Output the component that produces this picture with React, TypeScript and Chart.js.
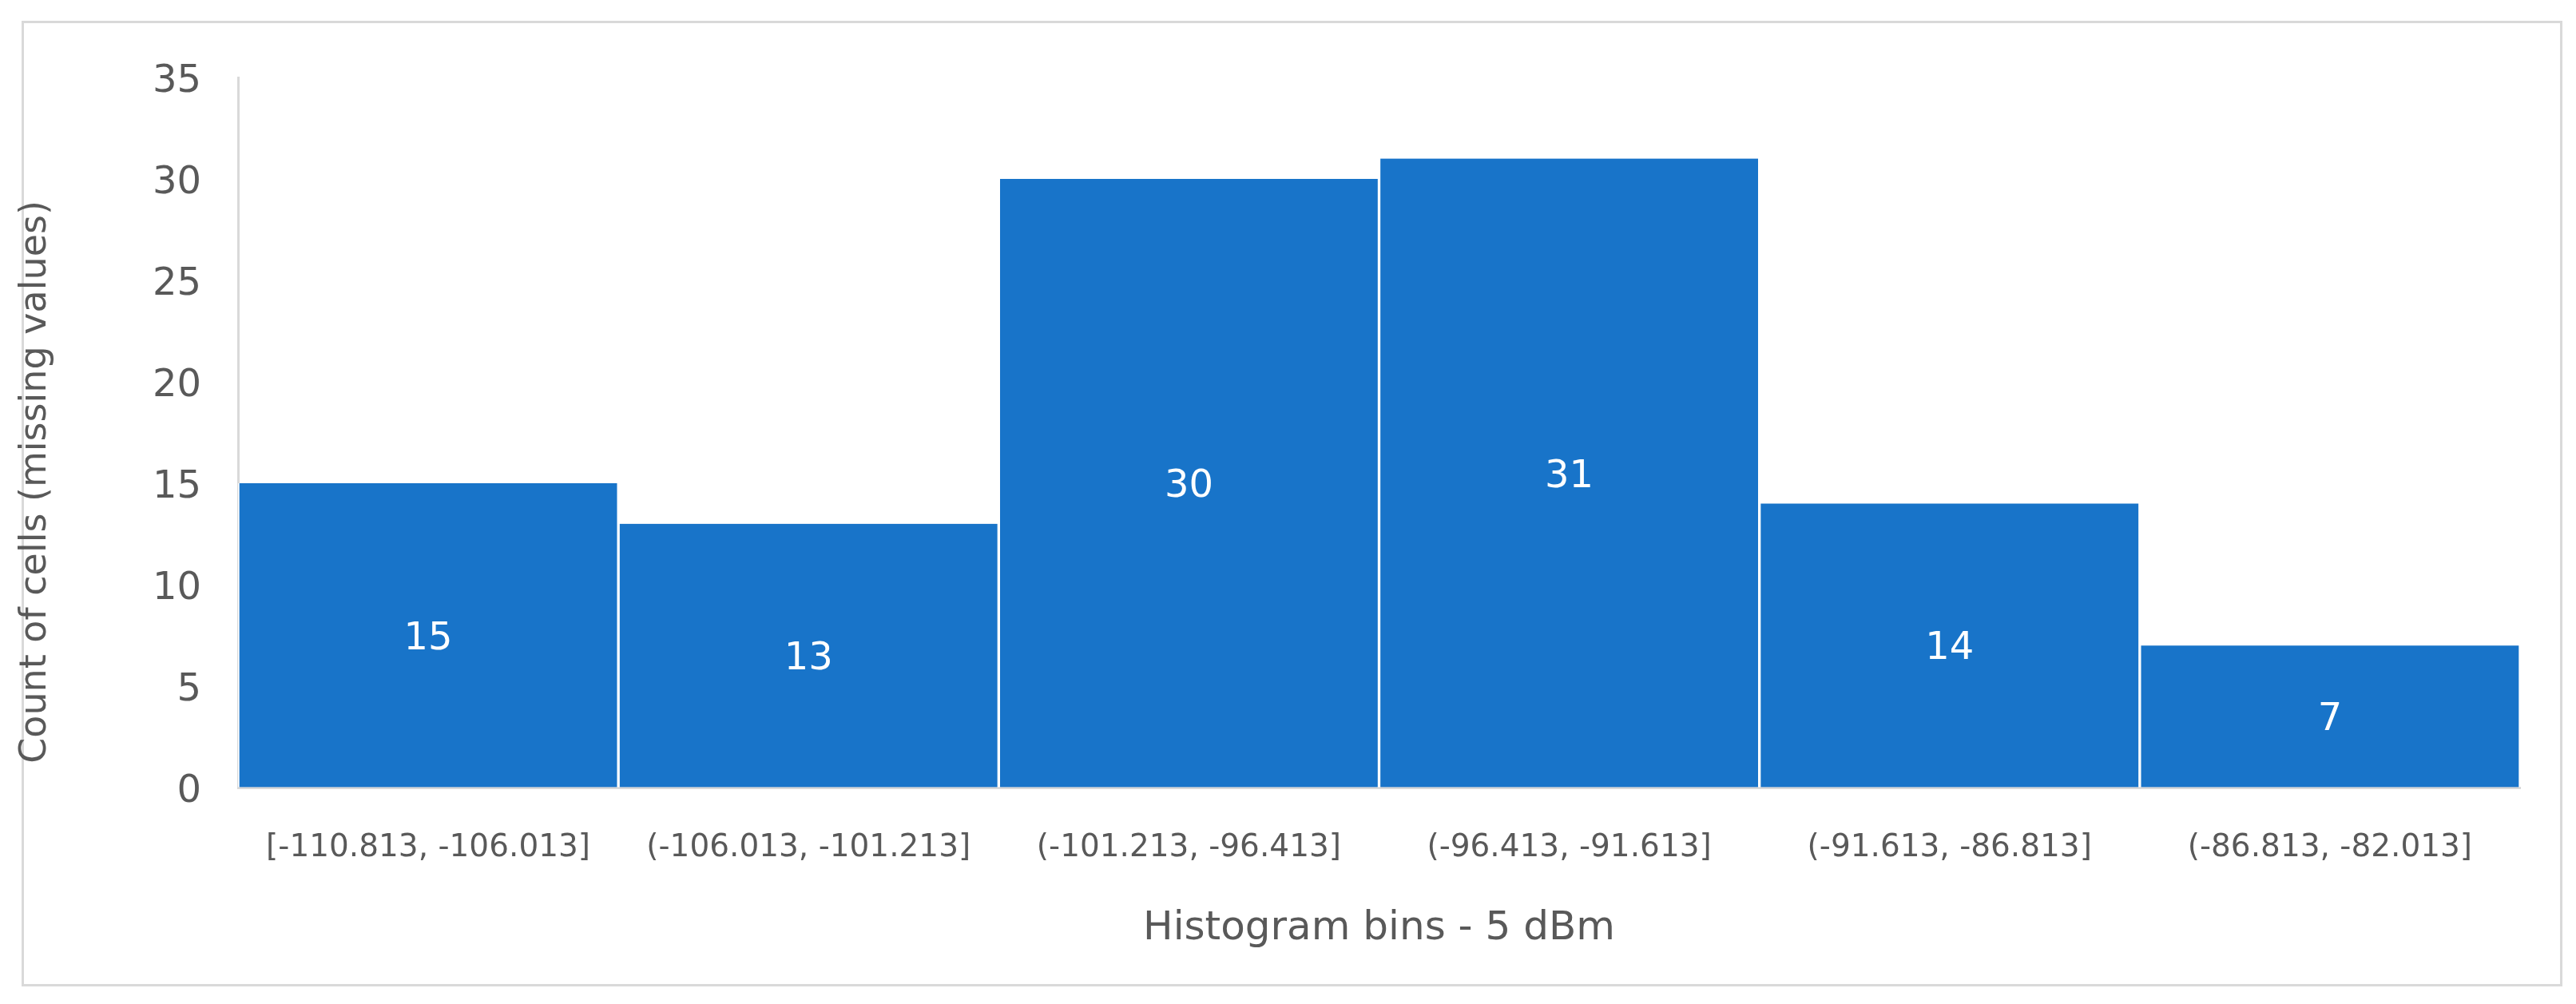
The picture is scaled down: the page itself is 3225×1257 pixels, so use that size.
import React, { useEffect, useRef } from "react";
import { Chart, registerables } from "chart.js";

Chart.register(...registerables);

const binLabels = [
  "[-110.813, -106.013]",
  "(-106.013, -101.213]",
  "(-101.213, -96.413]",
  "(-96.413, -91.613]",
  "(-91.613, -86.813]",
  "(-86.813, -82.013]",
];
const counts = [15, 13, 30, 31, 14, 7];
const yTitle = "Count of cells (missing values)";
const xTitle = "Histogram bins - 5 dBm";

const FONT = "'DejaVu Sans', Verdana, sans-serif";
const TEXT = "#595959";
const AXIS = "#d9d9d9";
const BAR = "#1874C9";

const valueLabels = {
  id: "valueLabels",
  afterDatasetsDraw(chart: any) {
    const ctx = chart.ctx;
    const meta = chart.getDatasetMeta(0);
    ctx.save();
    ctx.fillStyle = "#ffffff";
    ctx.font = `48px ${FONT}`;
    ctx.textAlign = "center";
    ctx.textBaseline = "middle";
    meta.data.forEach((bar: any, i: number) => {
      const p = bar.getProps(["x", "y", "base"], true);
      ctx.fillText(String(counts[i]), p.x, (p.y + p.base) / 2 + 5);
    });
    ctx.restore();
  },
};

// Y-axis title, drawn rotated; Excel centres it lower than the axis midpoint.
const yAxisTitle = {
  id: "yAxisTitle",
  afterDraw(chart: any) {
    const ctx = chart.ctx;
    const area = chart.chartArea;
    const cy = (area.top + area.bottom) / 2 + 62;
    ctx.save();
    ctx.translate(45, cy);
    ctx.rotate(-Math.PI / 2);
    ctx.fillStyle = TEXT;
    ctx.font = `46px ${FONT}`;
    ctx.textAlign = "center";
    ctx.textBaseline = "middle";
    ctx.fillText(yTitle, 0, 0);
    ctx.restore();
  },
};

export default function App() {
  const ref = useRef<HTMLCanvasElement | null>(null);
  useEffect(() => {
    if (!ref.current) return;
    const chart = new Chart(ref.current, {
      type: "bar",
      data: {
        labels: binLabels,
        datasets: [
          {
            data: counts,
            backgroundColor: BAR,
            borderColor: "#ffffff",
            borderWidth: { left: 2, right: 2, top: 0, bottom: 0 },
            borderSkipped: false,
            barPercentage: 1,
            categoryPercentage: 1,
          },
        ],
      },
      options: {
        animation: false,
        responsive: false,
        maintainAspectRatio: false,
        events: [],
        layout: { padding: { left: 0, top: 97, right: 70, bottom: 0 } },
        plugins: {
          legend: { display: false },
          tooltip: { enabled: false },
          title: { display: false },
        },
        scales: {
          x: {
            grid: { display: true, drawOnChartArea: false, drawTicks: false },
            border: { display: true, color: AXIS, width: 3 },
            ticks: {
              color: TEXT,
              font: { family: FONT, size: 39 },
              padding: 52,
              autoSkip: false,
              maxRotation: 0,
              minRotation: 0,
            },
            title: {
              display: true,
              text: xTitle,
              color: TEXT,
              font: { family: FONT, size: 50 },
              padding: { top: 0, bottom: 64 },
            },
            afterFit(scale: any) {
              scale.height = 271;
            },
          },
          y: {
            min: 0,
            max: 35,
            grid: { display: true, drawOnChartArea: false, drawTicks: false },
            border: { display: true, color: AXIS, width: 3 },
            ticks: {
              stepSize: 5,
              color: TEXT,
              font: { family: FONT, size: 48 },
              padding: 46,
              labelOffset: 6,
            },
            title: { display: false },
            afterFit(scale: any) {
              scale.width = 298;
            },
          },
        },
      },
      plugins: [valueLabels, yAxisTitle],
    });
    return () => chart.destroy();
  }, []);

  return (
    <div
      style={{
        position: "absolute",
        left: 0,
        top: 0,
        width: 3225,
        height: 1257,
        background: "#ffffff",
        overflow: "hidden",
      }}
    >
      <div
        style={{
          position: "absolute",
          left: 27,
          top: 26,
          width: 3181,
          height: 1209,
          boxSizing: "border-box",
          border: `3px solid ${AXIS}`,
        }}
      />
      <canvas
        ref={ref}
        width={3225}
        height={1257}
        style={{ position: "absolute", left: 0, top: 0, width: 3225, height: 1257 }}
      />
    </div>
  );
}
